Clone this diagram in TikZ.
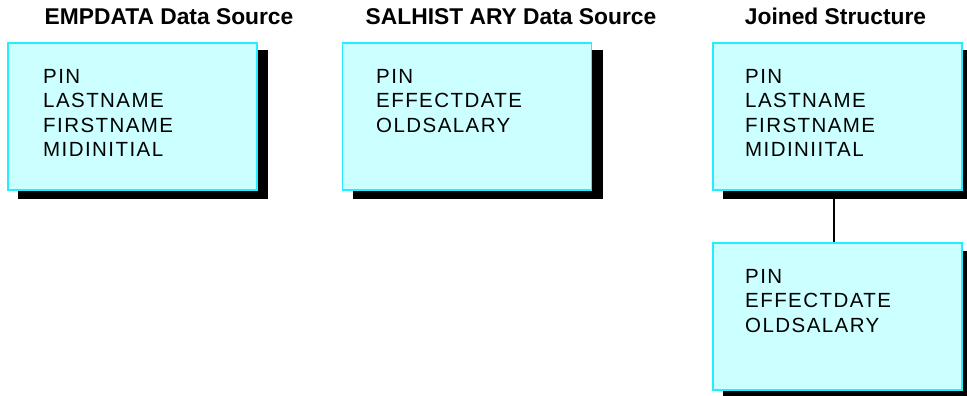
\documentclass[tikz,border=0pt]{standalone}
\usepackage{fontspec}
\setmainfont{Liberation Sans}
\newfontfamily\boxfont[LetterSpace=7]{Liberation Sans}
\definecolor{boxfill}{HTML}{CCFFFF}
\definecolor{boxline}{HTML}{22EEFF}
\begin{document}
\begin{tikzpicture}[x=1pt,y=-1pt,
  databox/.style={draw=boxline, line width=1.2pt, fill=boxfill, minimum width=249pt, minimum height=147pt, inner sep=0pt},
  shadowbox/.style={fill=black, minimum width=250pt, minimum height=148pt, inner sep=0pt},
  fields/.style={anchor=base west, align=left, inner sep=0pt, font=\boxfont\fontsize{20.5}{24.5}\selectfont},
  title/.style={anchor=base, inner sep=0pt, font=\bfseries\fontsize{22.8}{26}\selectfont}]
\useasboundingbox (0,0) rectangle (967,396);
% titles
\node[title] (t1) at (169,25) {EMPDATA Data Source};
\node[title] (t2) at (511,25) {SALHIST ARY Data Source};
\node[title] (t3) at (835.5,25) {Joined Structure};
% shadows
\node[shadowbox] (s1) at (143,124.5) {};
\node[shadowbox] (s2) at (477.5,124.5) {};
\node[shadowbox] (s3) at (848,124.5) {};
\node[shadowbox] (s4) at (848,324.5) {};
% boxes
\node[databox] (b1) at (132.5,116.5) {};
\node[databox] (b2) at (467,116.5) {};
\node[databox] (b3) at (837.5,116.5) {};
\node[databox] (b4) at (837.5,316.5) {};
% fields (anchored at the baseline of the last line)
\node[fields] (f1) at (43,156.5) {PIN\\LASTNAME\\FIRSTNAME\\MIDINITIAL};
\node[fields] (f2) at (376,132) {PIN\\EFFECTDATE\\OLDSALARY};
\node[fields] (f3) at (745,156.5) {PIN\\LASTNAME\\FIRSTNAME\\MIDINIITAL};
\node[fields] (f4) at (745,332) {PIN\\EFFECTDATE\\OLDSALARY};
% connector
\coordinate (c1) at (834,199);
\draw[line width=1.2pt] (c1) -- (c1 |- b4.north);
\end{tikzpicture}
\end{document}
